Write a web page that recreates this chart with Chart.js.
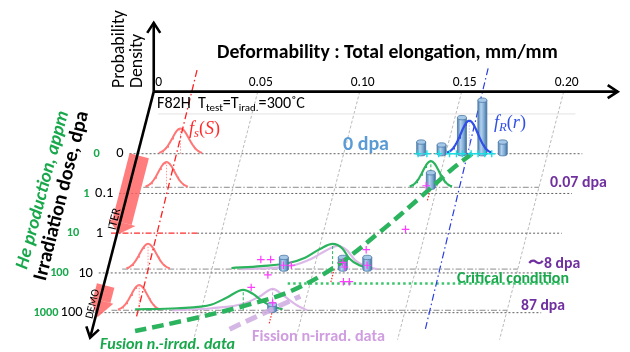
<!DOCTYPE html>
<html>
<head>
<meta charset="utf-8">
<script src="https://cdn.jsdelivr.net/npm/chart.js@4.4.1/dist/chart.umd.min.js"></script>
<style>
  html, body { margin: 0; padding: 0; background: #fff; }
  canvas { display: block; }
</style>
</head>
<body>
<canvas id="chart" width="630" height="352"></canvas>
<script>
// ---- values ----
const elongTicks = [0, 0.05, 0.10, 0.15, 0.20];
const elongTickLabels = ['0', '0.05', '0.10', '0.15', '0.20'];

const doseTicks = [0, 0.1, 1, 10, 100];                // dpa ("0" sits one decade above 0.1)
const doseTickLabels = ['0', '0.1', '1', '10', '100'];
const heTickLabels = ['0', '1', '10', '100', '1000'];  // appm

const dataDoses = [0.07, 8, 87];                       // rows with irradiated data

// f_S(S): one normal curve per row
const sDoses = [0, 0.07, 8, 87];
const sMean = [0.0200, 0.0174, 0.0187, 0.0196];
const sSd = [0.0041, 0.0040, 0.0041, 0.0040];
const sTrendElong = [0.0175, 0.0191];
const sTrendDose = [7.9e-5, 140];

// f_R(r): unirradiated (0 dpa)
const rMean = 0.1616;
const rSd = 0.0042;
const rTrendElong = [0.160, 0.1623];
const rTrendDose = [7.1e-5, 275];
const histBins = [0.138, 0.148, 0.158, 0.168, 0.178];
const histFreq = [1.0, 0.75, 3.1, 4.6, 1.0];
const unirrElong = [0.1365, 0.1408, 0.1466, 0.1519, 0.1553, 0.1582, 0.1625, 0.1659, 0.1692, 0.1726];

// irradiated cylinders
const barElong = [0.147, 0.0853, 0.1142, 0.1262, 0.0848];
const barDose = [0.07, 8, 8, 8, 87];
const barFreq = [1.25, 1.0, 1.0, 1.0, 0.5];

// fusion data at 0.07 dpa
const fus007Mean = 0.147;
const fus007Sd = 0.0040;

// density curves at ~8 and 87 dpa (relative density)
const fus8Elong = [0.0596, 0.0741, 0.0871, 0.0957, 0.1030, 0.1092, 0.1141, 0.1174, 0.1223, 0.1285];
const fus8Dens = [0.04, 0.12, 0.23, 0.45, 0.8, 1.0, 0.81, 0.42, 0.15, 0.04];
const fis8Elong = [0.0644, 0.0885, 0.0991, 0.1058, 0.1116, 0.1164, 0.1203, 0.1251, 0.1309];
const fis8Dens = [0, 0.12, 0.42, 0.73, 0.92, 0.73, 0.35, 0.12, 0];
const fus87Elong = [0.0176, 0.0383, 0.0552, 0.0624, 0.0706, 0.0754, 0.0802, 0.0850, 0.0899];
const fus87Dens = [0.04, 0.08, 0.23, 0.5, 0.81, 0.65, 0.35, 0.15, 0.04];
const fis87Elong = [0.0358, 0.0552, 0.0711, 0.0793, 0.0850, 0.0904, 0.0971, 0.1019];
const fis87Dens = [0, 0.08, 0.27, 0.58, 0.85, 0.58, 0.19, 0];

// individual fusion-irradiated results
const fusPtElong = [0.1445, 0.1399, 0.0728, 0.0776, 0.0846, 0.0885, 0.0782, 0.1132, 0.1148, 0.1232, 0.1256, 0.1161, 0.1190, 0.0716, 0.0841];
const fusPtDose = [0.064, 0.80, 4.6, 4.6, 6.4, 6.4, 11.2, 5.4, 7.1, 2.6, 6.4, 16.6, 16.6, 23.2, 57];

// trends
const fusTrendElong = [0.1629, 0.1546, 0.1423, 0.1284, 0.1100, 0.0913, 0.0705, 0.0453, 0.0202];
const fusTrendDose = [0, 0.026, 0.14, 0.85, 7.1, 29, 67.5, 148, 290];
const fisTrendElong = [0.0663, 0.0968];
const fisTrendDose = [260, 38.5];
const critDose = 18.5;
const critElong = [0.089, 0.2244];

// ---- layout of the oblique view ----
const PX_E = 2075, PX_DEC = 41, SLANT = 0.255;
const E_MIN = -153 / PX_E, E_MAX = E_MIN + 630 / PX_E;
const D_MIN = -2 - 153 / PX_DEC, D_MAX = D_MIN + 352 / PX_DEC;
const D_AXIS = D_MIN + 89 / PX_DEC;   // row of the elongation axis
const D_END = 2.63;                    // tip of the dose arrow
const AXIS_E = -0.001;
const UNIT = 26;                        // px per unit density
const BAR_UNIT = 12;

const lg = v => Math.log10(v || 0.01);
function at(e, d, h = 0) {
  return { x: e - SLANT * (d - D_AXIS) * PX_DEC / PX_E, y: d - h / PX_DEC };
}
function normal(mean, sd, dose, peak) {
  const d = lg(dose), pts = [];
  for (let k = -26; k <= 26; k++) {
    const z = k / 10;
    pts.push(at(mean + z * sd, d, peak * Math.exp(-z * z / 2)));
  }
  return pts;
}
const curve = (es, ds, dose) => es.map((e, i) => at(e, lg(dose), ds[i] * UNIT));

const datasets = [];
function line(data, color, width, dash, order, extra = {}) {
  datasets.push({ data, showLine: true, pointRadius: 0, fill: false, borderColor: color,
    borderWidth: width, borderDash: dash, order, ...extra });
}

const GREEN = '#2bb35e', LAV = '#dcb8e8', RED = '#ff7676', GRID = '#a8a8a8';

// slanted grid
elongTicks.slice(1).forEach(e => line([at(e, D_AXIS), at(e, 2.68)], GRID, 0.8, [3, 2], 100));
line([at(0.004, -3), at(0.2086, -3)], '#e2e2e2', 1, [], 99);

// axis rows and data rows
doseTicks.forEach(v => {
  const from = v === 1 ? 0.0382 : -0.005;
  line([at(from, lg(v)), at(0.217, lg(v))], '#5f5f5f', 1, [2, 2], 90);
});
dataDoses.forEach(v => line([at(0.006, lg(v)), at(0.200, lg(v))], '#8c8c8c', 1, [6, 2, 1.5, 2], 90));
line([at(-0.004, 0), at(0.0382, 0)], '#ff2a2a', 1.2, [6, 2, 1.5, 2], 89);
line(critElong.map(e => at(e, lg(critDose))), '#3cc46c', 2.6, [2.5, 3], 88);

// ITER / DEMO bands
line([at(0, -1.95), at(0, -0.27)], 'rgba(255,96,96,0.82)', 20, [], 70,
  { arrowHead: { type: 'solid', len: 12, half: 14 } });
line([at(0, 1.317), at(0, 1.70)], 'rgba(255,96,96,0.82)', 18, [], 70,
  { arrowHead: { type: 'solid', len: 17, half: 12 } });

// f_S(S)
sDoses.forEach((v, i) => {
  line(normal(sMean[i], sSd[i], v, UNIT), RED, 2, [], 60);
  line([at(sMean[i], lg(v)), at(sMean[i], lg(v), UNIT)], '#ff9a9a', 1, [1.5, 1.5], 59);
});
line(sTrendElong.map((e, i) => at(e, lg(sTrendDose[i]))), '#ff2020', 1.3, [7, 3, 1.5, 3], 58);

// f_R(r) at 0 dpa
line(rTrendElong.map((e, i) => at(e, lg(rTrendDose[i]))), '#2a3de0', 1.2, [7, 3, 1.5, 3], 58);
line(normal(rMean, rSd, 0, 34), '#2f4fe6', 2.2, [], 45);
line([at(rMean, -2), at(rMean, -2, 34)], '#b9c4ff', 1, [1.5, 1.5], 44);

// irradiated density curves
line(curve(fis8Elong, fis8Dens, 8), LAV, 2.2, [], 57, { cubicInterpolationMode: 'monotone' });
line(curve(fis87Elong, fis87Dens, 87), LAV, 2.2, [], 57, { cubicInterpolationMode: 'monotone' });
line([at(0.0850, lg(87)), at(0.0850, lg(87), 0.85 * UNIT)], '#caa0da', 1, [3, 2], 56);
line(normal(fus007Mean, fus007Sd, 0.07, 27), GREEN, 2.2, [], 55);
line([at(fus007Mean, lg(0.07)), at(fus007Mean, lg(0.07), 27)], GREEN, 1, [3, 2], 54);
line(curve(fus8Elong, fus8Dens, 8), GREEN, 2.2, [], 55, { cubicInterpolationMode: 'monotone' });
line([at(0.1092, lg(8)), at(0.1092, lg(8), UNIT)], GREEN, 1, [3, 2], 54);
line(curve(fus87Elong, fus87Dens, 87), GREEN, 2.2, [], 55, { cubicInterpolationMode: 'monotone' });
line([at(0.0706, lg(87)), at(0.0706, lg(87), 0.81 * UNIT)], GREEN, 1, [3, 2], 54);

// short red markers below irradiated cylinders
[[0.147, 0.07], [0.110, 8], [0.085, 87]].forEach(([e, v]) =>
  line([at(e, lg(v)), at(e, lg(v) + 14 / PX_DEC)], '#ff2a2a', 1.2, [1.5, 1.5], 53));

// cylinders
const bar = (es, doses, freq) => ({
  type: 'bar', cylinder: true, grouped: false, barThickness: 9, order: 50,
  backgroundColor: 'rgba(0,0,0,0)', borderWidth: 0,
  data: es.map((e, i) => {
    const d = lg(doses[i]);
    return { x: at(e, d).x, y: [d, d - freq[i] * BAR_UNIT / PX_DEC] };
  }),
});
datasets.push(bar(histBins, histBins.map(() => 0), histFreq));
datasets.push(bar(barElong, barDose, barFreq));

// trends
line(fisTrendElong.map((e, i) => at(e, lg(fisTrendDose[i]))), 'rgba(205,170,225,0.85)', 5, [12, 6], 40);
line(fusTrendElong.map((e, i) => at(e, lg(fusTrendDose[i]))), GREEN, 4.5, [12, 6], 35, { tension: 0.35 });

// individual results
datasets.push({ data: unirrElong.map(e => at(e, -2)), pointStyle: 'cross', pointRadius: 3.5,
  borderColor: '#18dde3', borderWidth: 1.4, order: 30 });
datasets.push({ data: fusPtElong.map((e, i) => at(e, lg(fusPtDose[i]))), pointStyle: 'cross', pointRadius: 3.8,
  borderColor: '#ff3cff', borderWidth: 1.2, order: 30 });

// axes
line([at(AXIS_E, D_AXIS), at(AXIS_E, D_AXIS, 71)], '#000', 2.6, [], 10, { arrowHead: { type: 'open', len: 10, half: 6.5 } });
line([at(AXIS_E, D_AXIS), at(0.2265, D_AXIS)], '#000', 2.6, [], 10, { arrowHead: { type: 'open', len: 10, half: 6.5 } });
line([at(AXIS_E, D_AXIS), at(AXIS_E, D_END)], '#000', 2.6, [], 10, { arrowHead: { type: 'open', len: 10, half: 6.5 } });

// ---- plugins ----
const arrowHeads = {
  id: 'arrowHeads',
  afterDatasetDraw(chart, args) {
    const ds = chart.data.datasets[args.index];
    if (!ds.arrowHead) return;
    const pts = args.meta.data;
    const a = pts[pts.length - 2], b = pts[pts.length - 1];
    const ang = Math.atan2(b.y - a.y, b.x - a.x);
    const { type, len, half } = ds.arrowHead;
    const ctx = chart.ctx;
    ctx.save();
    ctx.translate(b.x, b.y);
    ctx.rotate(ang);
    ctx.beginPath();
    if (type === 'solid') {
      ctx.moveTo(len, 0); ctx.lineTo(0, -half); ctx.lineTo(0, half); ctx.closePath();
      ctx.fillStyle = ds.borderColor; ctx.fill();
    } else {
      ctx.moveTo(-len, -half); ctx.lineTo(0, 0); ctx.lineTo(-len, half);
      ctx.strokeStyle = ds.borderColor; ctx.lineWidth = ds.borderWidth; ctx.stroke();
    }
    ctx.restore();
  },
};

const cylinders = {
  id: 'cylinders',
  afterDatasetDraw(chart, args) {
    const ds = chart.data.datasets[args.index];
    if (!ds.cylinder) return;
    const ctx = chart.ctx;
    args.meta.data.forEach(el => {
      const { x, y, base, width } = el.getProps(['x', 'y', 'base', 'width'], true);
      const top = Math.min(y, base), bot = Math.max(y, base), r = width / 2, ry = 2.2;
      const g = ctx.createLinearGradient(x - r, 0, x + r, 0);
      g.addColorStop(0, '#4f7fae'); g.addColorStop(0.35, '#b4d2ee');
      g.addColorStop(0.7, '#7ba8d2'); g.addColorStop(1, '#416f9c');
      ctx.save();
      ctx.beginPath();
      ctx.moveTo(x - r, top); ctx.lineTo(x - r, bot);
      ctx.ellipse(x, bot, r, ry, 0, Math.PI, 0, true);
      ctx.lineTo(x + r, top); ctx.closePath();
      ctx.fillStyle = g; ctx.fill();
      ctx.strokeStyle = '#4a78a5'; ctx.lineWidth = 0.8; ctx.stroke();
      ctx.beginPath();
      ctx.ellipse(x, top, r, ry, 0, 0, Math.PI * 2);
      ctx.fillStyle = '#a6c8e8'; ctx.fill(); ctx.stroke();
      ctx.restore();
    });
  },
};

const SANS = 'Carlito, Lato, sans-serif';
function sizeFor(ctx, text, font, width) {
  ctx.font = font.replace('{s}', 20);
  return 20 * width / ctx.measureText(text).width;
}
function put(ctx, text, x, y, o) {
  const size = o.size || sizeFor(ctx, text, o.font, o.width);
  ctx.save();
  ctx.font = o.font.replace('{s}', size.toFixed(2));
  ctx.fillStyle = o.color || '#000';
  ctx.textAlign = o.align || 'left';
  ctx.textBaseline = 'middle';
  ctx.translate(x, y);
  ctx.rotate((o.rot || 0) * Math.PI / 180);
  ctx.fillText(text, 0, 0);
  ctx.restore();
  return size;
}
// parts: [text, fontTemplate, relSize, dy]
function putRich(ctx, parts, x, y, width, color) {
  const widthAt = s => parts.reduce((w, p) => {
    ctx.font = p[1].replace('{s}', s * p[2]); return w + ctx.measureText(p[0]).width; }, 0);
  const s = 20 * width / widthAt(20);
  ctx.save();
  ctx.fillStyle = color; ctx.textBaseline = 'middle'; ctx.textAlign = 'left';
  let cx = x;
  parts.forEach(p => {
    ctx.font = p[1].replace('{s}', (s * p[2]).toFixed(2));
    ctx.fillText(p[0], cx, y + p[3] * s / 15);
    cx += ctx.measureText(p[0]).width;
  });
  ctx.restore();
}

const labels = {
  id: 'labels',
  afterDraw(chart) {
    const ctx = chart.ctx, sx = chart.scales.x, sy = chart.scales.y;
    const P = (e, d, h = 0) => { const p = at(e, d, h); return [sx.getPixelForValue(p.x), sy.getPixelForValue(p.y)]; };
    const R = `{s}px ${SANS}`, B = `bold {s}px ${SANS}`, BI = `italic bold {s}px ${SANS}`;

    put(ctx, 'Deformability : Total elongation, mm/mm', 217, 53, { font: B, width: 341 });
    const pSize = put(ctx, 'Probability', 120, 88, { font: R, width: 78, rot: -90 });
    put(ctx, 'Density', 138, 88, { font: R, size: pSize, rot: -90 });

    const tSize = sizeFor(ctx, '0.05', R, 24);
    elongTicks.forEach((e, i) => {
      const [x, y] = P(e, D_AXIS);
      put(ctx, elongTickLabels[i], x + 3, y - 9, { font: R, size: tSize, align: 'center' });
    });

    const dSize = sizeFor(ctx, '100', R, 22);
    const hSize = sizeFor(ctx, '1000', B, 25);
    doseTicks.forEach((v, i) => {
      const [x, y] = P(AXIS_E, lg(v));
      put(ctx, doseTickLabels[i], x - 14, y, { font: R, size: dSize, align: 'right' });
      put(ctx, heTickLabels[i], x - 38, y, { font: B, size: hSize, align: 'right', color: '#19a84c' });
    });

    put(ctx, 'He production, appm', 43, 190, { font: BI, width: 163, rot: -75.3, align: 'center', color: '#19a84c' });
    put(ctx, 'Irradiation dose, dpa', 62, 196, { font: B, width: 174, rot: -75.8, align: 'center' });
    put(ctx, 'ITER', 115, 219, { font: R, width: 22, rot: -76, align: 'center' });
    put(ctx, 'DEMO', 93, 304, { font: R, width: 30, rot: -76, align: 'center' });

    putRich(ctx, [['F82H  T', R, 1, 0], ['test', R, 0.68, 4], ['=T', R, 1, 0],
      ['irad.', R, 0.68, 4], ['=300˚C', R, 1, 0]], 157, 104, 148, '#000');
    const SI = '"Liberation Serif", serif', It = `italic {s}px ${SI}`, Up = `{s}px ${SI}`;
    putRich(ctx, [['f', It, 1, 0], ['s', It, 0.7, 4], ['(', Up, 1, 0], ['S', It, 1, 0], [')', Up, 1, 0]],
      189, 129, 31, '#ff2a2a');
    putRich(ctx, [['f', It, 1, 0], ['R', It, 0.7, 4], ['(', Up, 1, 0], ['r', It, 1, 0], [')', Up, 1, 0]],
      494, 123, 32, '#2f4fe6');

    const PUR = '#7030a0';
    put(ctx, '0 dpa', 343, 145, { font: B, width: 46, color: '#5b9bd5' });
    put(ctx, '0.07 dpa', 550, 183, { font: B, width: 57, color: PUR });
    put(ctx, '〜8 dpa', 528, 264, { font: B, width: 52, color: PUR });
    put(ctx, 'Critical condition', 457, 279, { font: B, width: 112, color: '#19a84c' });
    put(ctx, '87 dpa', 521, 306, { font: B, width: 44, color: PUR });
    put(ctx, 'Fusion n.-irrad. data', 100, 345, { font: BI, width: 135, color: '#19a84c' });
    put(ctx, 'Fission n-irrad. data', 252, 337, { font: B, width: 133, color: '#d09ee0' });
  },
};

new Chart(document.getElementById('chart'), {
  type: 'scatter',
  data: { datasets },
  options: {
    responsive: false,
    animation: false,
    devicePixelRatio: 1,
    events: [],
    layout: { padding: 0 },
    scales: {
      x: { type: 'linear', display: false, min: E_MIN, max: E_MAX, offset: false },
      y: { type: 'linear', display: false, min: D_MIN, max: D_MAX, reverse: true, offset: false },
    },
    plugins: { legend: { display: false }, tooltip: { enabled: false } },
  },
  plugins: [arrowHeads, cylinders, labels],
});
</script>
</body>
</html>
